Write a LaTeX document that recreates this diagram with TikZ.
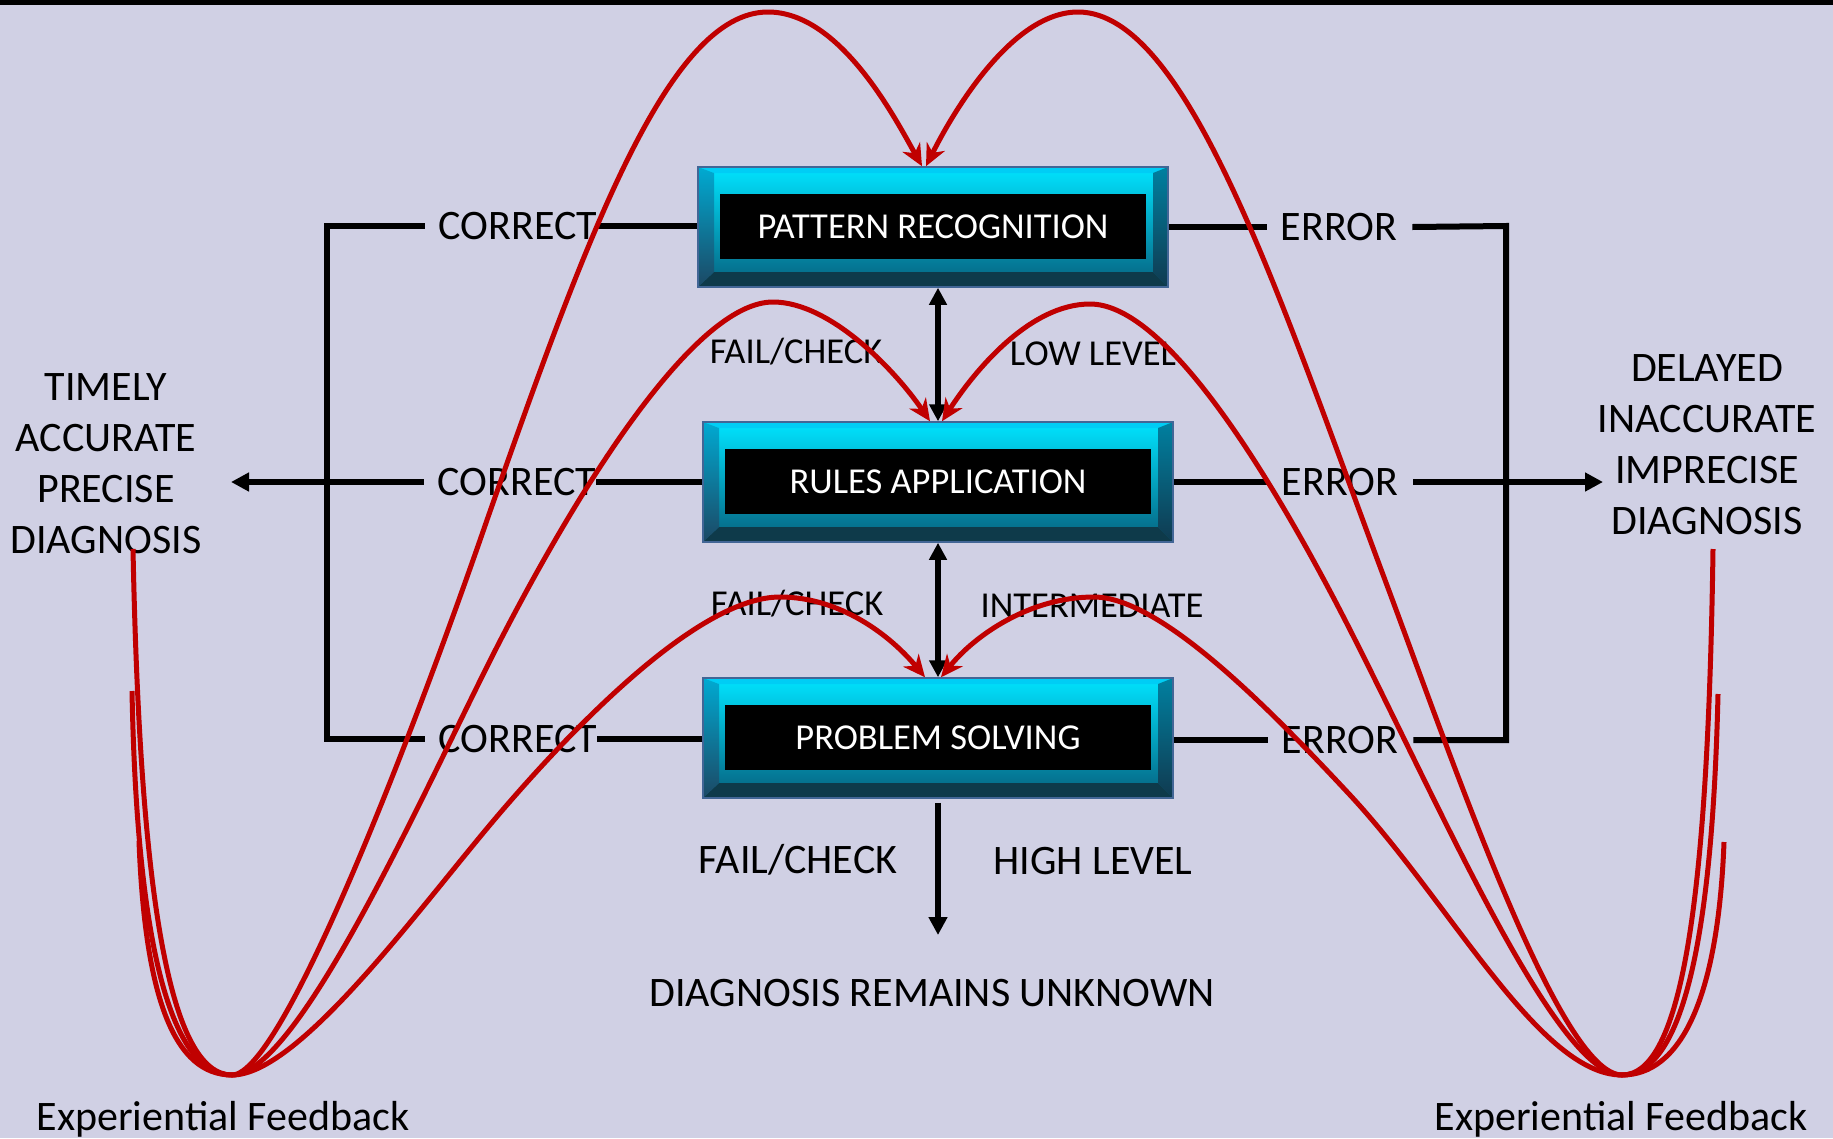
\documentclass[tikz,border=0pt]{standalone}
\usepackage{fontspec}
\setmainfont{Carlito}
\usetikzlibrary{arrows.meta,calc}
\definecolor{bgc}{RGB}{208,208,228}
\definecolor{redc}{RGB}{192,0,0}
\definecolor{faceT}{RGB}{0,228,255}
\definecolor{faceB}{RGB}{6,96,126}
\definecolor{bevT}{RGB}{0,205,245}
\definecolor{bevB}{RGB}{14,58,74}
\definecolor{bevLT}{RGB}{0,170,210}
\definecolor{bevLB}{RGB}{28,72,100}
\definecolor{bevRT}{RGB}{0,128,160}
\definecolor{bevRB}{RGB}{16,58,80}
\definecolor{boxrim}{RGB}{66,102,150}
\tikzset{
  lbl/.style={inner sep=0pt, text height=26.5pt, text depth=0pt, font=\fontsize{42}{51}\selectfont},
  slbl/.style={inner sep=0pt, text height=23pt, text depth=0pt, font=\fontsize{36.5}{44}\selectfont},
  mlbl/.style={inner sep=0pt, align=center, font=\fontsize{42}{51}\selectfont},
  blk/.style={line width=6pt, black, line join=miter},
  blkarrow/.style={blk, -{Triangle[length=18pt,width=18pt]}},
  blkdbl/.style={line width=5.5pt, black, {Triangle[length=17pt,width=17pt]}-{Triangle[length=17pt,width=17pt]}},
  redarc/.style={line width=5pt, redc, -{Stealth[length=22pt,width=20pt,inset=7pt]}},
  bevelbox/.style={rectangle, minimum width=470pt, minimum height=120pt, inner sep=0pt,
    draw=boxrim, line width=1.5pt, text=white, font=\fontsize{36.5}{44}\selectfont,
    text height=23pt, text depth=0pt,
    path picture={
      \coordinate (NW) at (path picture bounding box.north west);
      \coordinate (NE) at (path picture bounding box.north east);
      \coordinate (SW) at (path picture bounding box.south west);
      \coordinate (SE) at (path picture bounding box.south east);
      \shade[top color=faceT, bottom color=faceB] (NW) rectangle (SE);
      \fill[bevT] (NW) -- (NE) -- ($(NE)+(-15pt,-6pt)$) -- ($(NW)+(16pt,-6pt)$) -- cycle;
      \fill[bevB] (SW) -- (SE) -- ($(SE)+(-15pt,15pt)$) -- ($(SW)+(16pt,15pt)$) -- cycle;
      \shade[top color=bevLT, bottom color=bevLB] (NW) -- ($(NW)+(16pt,-6pt)$) -- ($(SW)+(16pt,15pt)$) -- (SW) -- cycle;
      \shade[top color=bevRT, bottom color=bevRB] (NE) -- ($(NE)+(-15pt,-6pt)$) -- ($(SE)+(-15pt,15pt)$) -- (SE) -- cycle;
      \fill[black] ($(NW)+(22pt,-27pt)$) rectangle ($(SE)+(-22pt,28pt)$);
    }}
}
\begin{document}
\begin{tikzpicture}[x=1pt,y=-1pt]
\useasboundingbox (0,0) rectangle (1833,1138);
\fill[bgc] (0,0) rectangle (1833,1138);
\fill[black] (0,0) rectangle (1833,5);

% boxes
\node[bevelbox] (pr) at (933,227) {PATTERN RECOGNITION};
\node[bevelbox] (rap) at (938,482) {RULES APPLICATION};
\node[bevelbox] (psv) at (938,738) {PROBLEM SOLVING};

% labels
\node[lbl] (c1) at (518,226) {CORRECT};
\node[lbl] (c2) at (517,482) {CORRECT};
\node[lbl] (c3) at (518,739) {CORRECT};
\node[lbl] (e1) at (1339,227) {ERROR};
\node[lbl] (e2) at (1340,482) {ERROR};
\node[lbl] (e3) at (1340,740) {ERROR};
\node[slbl] (fc1) at (796,352) {FAIL/CHECK};
\node[slbl] (ll) at (1093,354) {LOW LEVEL};
\node[slbl] (fc2) at (797,604) {FAIL/CHECK};
\node[slbl] (im) at (1092,606) {INTERMEDIATE};
\node[lbl] (fc3) at (798,860) {FAIL/CHECK};
\node[lbl] (hl) at (1093,861) {HIGH LEVEL};
\node[lbl] (du) at (932,993) {DIAGNOSIS REMAINS UNKNOWN};
\node[mlbl, anchor=north] (tl) at (106,373.7) {TIMELY\\ACCURATE\\PRECISE\\DIAGNOSIS};
\node[mlbl, anchor=north] (dl) at (1707,354.7) {DELAYED\\INACCURATE\\IMPRECISE\\DIAGNOSIS};
\node[lbl] (ef1) at (223,1117) {Experiential Feedback};
\node[lbl] (ef2) at (1621,1117) {Experiential Feedback};

% coordinates
\coordinate (lbt) at (327,226);
\coordinate (lbb) at (327,739);
\coordinate (ltip) at (231,482);
\coordinate (rbt) at (1506,226);
\coordinate (rbb) at (1506,740);
\coordinate (rtip) at (1603,482);
\coordinate (dtip) at (938,935);

% black connectors left
\draw[blk] (pr.west |- c1.east) -- (c1.east);
\draw[blk] (rap.west |- c2.east) -- (c2.east);
\draw[blk] (psv.west |- c3.east) -- (c3.east);
\draw[blk] ([xshift=-14pt]c1.west) -- (lbt) -- (lbb) -- ([xshift=-14pt]c3.west);
\draw[blkarrow] ([xshift=-14pt]c2.west) -- (ltip);
% black connectors right
\draw[blk] (pr.east |- e1.west) -- ([xshift=-14pt]e1.west);
\draw[blk] (rap.east |- e2.west) -- ([xshift=-14pt]e2.west);
\draw[blk] (psv.east |- e3.west) -- ([xshift=-14pt]e3.west);
\draw[blk] ([xshift=15pt]e1.east) -- (rbt) -- (rbb) -- ([xshift=15pt]e3.east);
\draw[blkarrow] ([xshift=15pt]e2.east) -- (rtip);
% vertical
\draw[blkdbl] (pr.south -| rap.north) -- (rap.north);
\draw[blkdbl] (rap.south) -- (psv.north);
\draw[blkarrow, line width=5.5pt] ([yshift=-4pt]psv.south) -- (dtip);

% red feedback curves
\coordinate (armL1) at (133,549);
\coordinate (armL2) at (132,691);
\coordinate (armL3) at (139,841);
\coordinate (armR1) at (1713,549);
\coordinate (armR2) at (1718,694);
\coordinate (armR3) at (1724,842);

\draw[redarc] (armL1) .. controls (140,900) and (170,1075) .. (232,1075)
  .. controls (285,1075) and (425,700) .. (487,520)
  .. controls (586,238) and (668,12) .. (768,12)
  .. controls (840,12) and (895,118) .. ([xshift=-11pt]pr.north);
\draw[redarc] (armL2) .. controls (137,950) and (172,1075) .. (232,1075)
  .. controls (300,1075) and (431,775) .. (500,641)
  .. controls (592,463) and (700,302) .. (773,302)
  .. controls (830,302) and (895,370) .. ([xshift=-8pt]rap.north);
\draw[redarc] (armL3) .. controls (145,1000) and (175,1075) .. (232,1075)
  .. controls (300,1075) and (422,904) .. (500,813)
  .. controls (578,722) and (700,597) .. (780,597)
  .. controls (840,597) and (890,635) .. ([xshift=-13pt]psv.north);

\draw[redarc] (armR1) .. controls (1708,900) and (1682,1075) .. (1622,1075)
  .. controls (1560,1075) and (1455,767) .. (1385,580)
  .. controls (1280,299) and (1188,12) .. (1078,12)
  .. controls (1010,12) and (950,118) .. ([xshift=-7pt]pr.north);
\draw[redarc] (armR2) .. controls (1712,950) and (1680,1075) .. (1622,1075)
  .. controls (1550,1075) and (1419,756) .. (1324,580)
  .. controls (1253,448) and (1160,304) .. (1090,304)
  .. controls (1030,304) and (975,370) .. ([xshift=4pt]rap.north);
\draw[redarc] (armR3) .. controls (1718,1000) and (1680,1075) .. (1622,1075)
  .. controls (1540,1075) and (1452,905) .. (1350,795)
  .. controls (1268,707) and (1160,597) .. (1094,597)
  .. controls (1030,597) and (975,635) .. ([xshift=3pt]psv.north);
\end{tikzpicture}
\end{document}
